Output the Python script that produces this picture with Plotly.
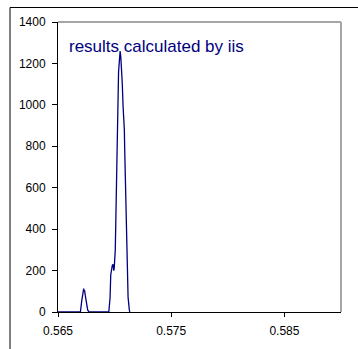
import plotly.graph_objects as go

# Data
mz = [0.5650, 0.56698, 0.56710, 0.56721, 0.56727, 0.56731, 0.56735, 0.56741, 0.56750, 0.56762, 0.56774,
      0.56949, 0.56960, 0.56966, 0.56980, 0.56987, 0.56993, 0.56997, 0.57006, 0.57013, 0.57022,
      0.57035, 0.57042, 0.57049, 0.57055, 0.57061, 0.57068, 0.57075, 0.57086, 0.57090, 0.57096,
      0.57099, 0.57105, 0.57111, 0.57119, 0.57130, 0.57134]
intensity = [0, 0, 55, 95, 113, 100, 105, 80, 40, 10, 0,
             0, 70, 180, 225, 230, 200, 215, 300, 491, 846,
             1160, 1210, 1260, 1230, 1180, 1100, 991, 880, 767, 600,
             443, 300, 187, 72, 10, 0]

x_ticks = [0.565, 0.575, 0.585]
y_ticks = [0, 200, 400, 600, 800, 1000, 1200, 1400]
annotation_text = "results calculated by iis"

FONT = "Arial, Liberation Sans, sans-serif"
NAVY = "#000080"

fig = go.Figure()
fig.add_trace(go.Scatter(x=mz, y=intensity, mode="lines",
                         line=dict(color=NAVY, width=1.3), hoverinfo="skip",
                         showlegend=False))

fig.update_layout(
    width=358, height=349,
    margin=dict(l=58, r=17, t=22, b=37),
    paper_bgcolor="white", plot_bgcolor="white",
    font=dict(family=FONT, size=12, color="black"),
    xaxis=dict(range=[0.565, 0.59], tickvals=x_ticks,
               ticktext=[f"{v:.3f}" for v in x_ticks],
               showgrid=False, zeroline=False, showline=True, linecolor="black",
               linewidth=1, ticks="outside", ticklen=4, tickcolor="black",
               ticklabelstandoff=4,
               tickfont=dict(family=FONT, size=12, color="black")),
    yaxis=dict(range=[0, 1400], tickvals=y_ticks,
               showgrid=False, zeroline=False, showline=True, linecolor="black",
               linewidth=1, ticks="outside", ticklen=5, tickcolor="black",
               ticklabelstandoff=4,
               tickfont=dict(family=FONT, size=12, color="black")),
    shapes=[
        dict(type="line", xref="paper", yref="paper", x0=0, x1=1, y0=1, y1=1,
             line=dict(color="#a6a6a6", width=2)),
        dict(type="line", xref="paper", yref="paper", x0=1, x1=1, y0=0, y1=1,
             line=dict(color="#a6a6a6", width=2)),
        dict(type="line", xref="paper", yref="paper", x0=-0.1696, x1=1.06,
             y0=1.05, y1=1.05, line=dict(color="black", width=1)),
        dict(type="line", xref="paper", yref="paper", x0=-0.1696, x1=-0.1696,
             y0=-0.13, y1=1.05, line=dict(color="black", width=1)),
    ],
    annotations=[dict(text=annotation_text, xref="paper", yref="paper",
                      x=(67 - 58) / 283, y=(312 - 46) / 290,
                      xanchor="left", yanchor="middle", showarrow=False,
                      font=dict(family=FONT, size=17, color=NAVY))],
)

fig.write_html("out.html")
